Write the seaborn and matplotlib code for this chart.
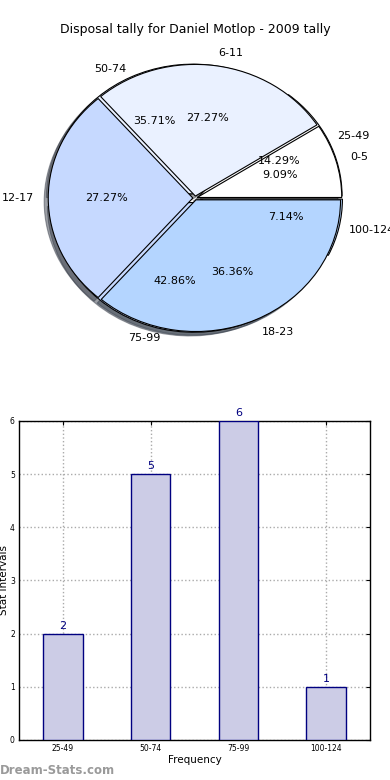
import matplotlib
matplotlib.use("Agg")
import matplotlib.pyplot as plt
import seaborn as sns

# age groups pie
age_groups = ["0-5", "6-11", "12-17", "18-23"]
age_counts = [1, 3, 3, 4]

# stat interval pie / bars
intervals = ["25-49", "50-74", "75-99", "100-124"]
interval_counts = [2, 5, 6, 1]

pie_colors = ["#ffffff", "#eaf1ff", "#c6d9ff", "#b4d5ff"]

sns.set_style("white")
plt.rcParams['font.family'] = ['DejaVu Sans']
plt.rcParams['text.color'] = 'black'
plt.rcParams['axes.labelcolor'] = 'black'
plt.rcParams['xtick.color'] = 'black'
plt.rcParams['ytick.color'] = 'black'

fig = plt.figure(figsize=(3.9, 7.8), dpi=100)

# pie chart (two overlaid pies)
ax1 = fig.add_axes([0.1256, 0.5756, 0.749, 0.341])
ax1.pie(interval_counts, labels=intervals, colors=pie_colors, autopct="%.2f%%",
        explode=[0.035] * 4, shadow=True, startangle=0, radius=0.975,
        labeldistance=1.07, pctdistance=0.62,
        wedgeprops=dict(edgecolor="black", linewidth=0.8),
        textprops=dict(fontsize=8))
ax1.pie(age_counts, labels=age_groups, colors=pie_colors, autopct="%.2f%%",
        explode=[0.015] * 4, shadow=True, startangle=0, radius=0.99,
        wedgeprops=dict(edgecolor="black", linewidth=0.8),
        textprops=dict(fontsize=8))
ax1.set_aspect("auto")
ax1.set_xlim(-1, 1)
ax1.set_ylim(-1, 1)
ax1.axis("off")
fig.text(0.5, 0.962, "Disposal tally for Daniel Motlop - 2009 tally",
         ha="center", va="center", fontsize=9)

# bar chart
ax2 = fig.add_axes([0.0487, 0.0513, 0.9, 0.409])
sns.barplot(x=intervals, y=interval_counts, color="#ccccE6", saturation=1,
            edgecolor="navy", linewidth=1, width=0.45, ax=ax2, zorder=3)
for c in ax2.containers:
    ax2.bar_label(c, color="navy", fontsize=8, padding=2)
ax2.set_ylim(0, 6)
ax2.set_xlim(-0.5, 3.5)
ax2.set_yticks(range(0, 7))
ax2.grid(True, linestyle=":", color="#aaaaaa", linewidth=1, zorder=0)
ax2.set_axisbelow(True)
ax2.tick_params(direction="in", top=True, right=True, labelsize=5.5,
                length=3, pad=3)
for s in ax2.spines.values():
    s.set_color("black")
    s.set_linewidth(1)
ax2.set_xlabel("Frequency", fontsize=7.5, labelpad=1)
ax2.set_ylabel("Stat Intervals", fontsize=7.5, labelpad=1)

fig.text(0.0, 0.012, "Dream-Stats.com", color="#9a9a9a", fontsize=8.5,
         fontweight="bold", ha="left", va="center")

fig.savefig("out.png", dpi=100)
